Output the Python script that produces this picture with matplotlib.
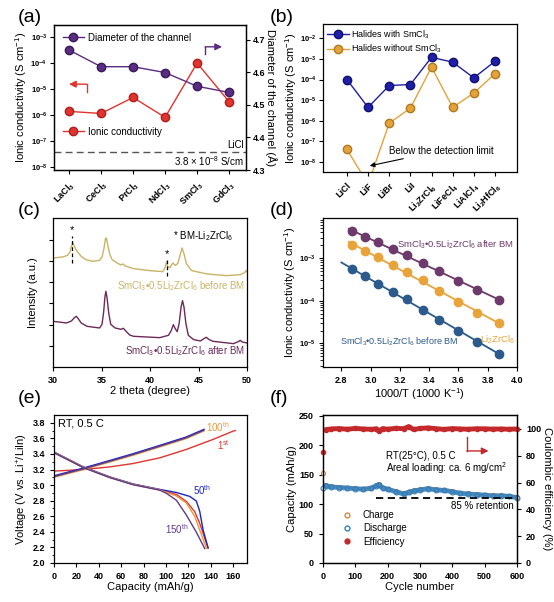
import numpy as np
import matplotlib
matplotlib.use('Agg')
import matplotlib.pyplot as plt
from matplotlib.lines import Line2D

plt.rcParams['font.family'] = ['Liberation Sans', 'DejaVu Sans']
plt.rcParams['mathtext.fontset'] = 'custom'
plt.rcParams['mathtext.rm'] = 'Liberation Sans'
plt.rcParams['mathtext.it'] = 'Liberation Sans:italic'
plt.rcParams['mathtext.bf'] = 'Liberation Sans:bold'
plt.rcParams['mathtext.default'] = 'regular'
plt.rcParams['axes.linewidth'] = 0.9
plt.rcParams['xtick.major.size'] = 3
plt.rcParams['ytick.major.size'] = 3
plt.rcParams['xtick.major.width'] = 0.8
plt.rcParams['ytick.major.width'] = 0.8

# ---------------- data ----------------
# (a) rare-earth chlorides
a_names = ['LaCl$_3$', 'CeCl$_3$', 'PrCl$_3$', 'NdCl$_3$', 'SmCl$_3$', 'GdCl$_3$']
a_cond = [1.4e-6, 1.17e-6, 4.8e-6, 8.3e-7, 1.0e-4, 3.3e-6]
a_diam = [4.668, 4.617, 4.617, 4.599, 4.557, 4.538]
licl_cond = 3.8e-8

# (b) halides with / without SmCl3
b_names = ['LiCl', 'LiF', 'LiBr', 'LiI', 'Li$_2$ZrCl$_6$', 'LiFeCl$_4$',
           'LiAlCl$_4$', 'Li$_2$HfCl$_6$']
b_with = [1.0e-4, 4.4e-6, 5.1e-5, 5.7e-5, 1.2e-3, 7.0e-4, 1.2e-4, 7.7e-4]
b_without = [4.0e-8, 8e-10, 7.5e-7, 4.0e-6, 4.0e-4, 4.4e-6, 2.2e-5, 1.9e-4]

# (c) XRD patterns (2 theta, intensity a.u.)
xrd_before_x = [30.0, 31.0, 31.5, 31.75, 31.9, 32.05, 32.2, 32.4, 32.6, 32.9,
                33.4, 34.1, 34.8, 35.05, 35.25, 35.4, 35.5, 35.65, 35.85, 36.1,
                36.6, 37.0, 37.2, 37.45, 38.3, 40.0, 41.3, 41.55, 41.7, 41.85,
                42.05, 42.35, 42.6, 42.85, 43.1, 43.3, 43.5, 43.75, 44.3, 45.9,
                47.9, 49.3, 49.75, 49.93, 50.0]
xrd_before_y = [327, 330, 335, 345, 362, 372, 362, 350, 343, 332,
                322, 317, 320, 330, 355, 385, 387, 365, 338, 322,
                312, 306, 309, 303, 295, 289, 286, 298, 315, 300,
                298, 312, 305, 310, 335, 357, 340, 310, 289, 279,
                274, 277, 283, 290, 285]
xrd_after_x = [30.0, 31.4, 31.9, 32.2, 32.4, 32.6, 32.9, 33.5, 34.8, 35.05,
               35.22, 35.35, 35.45, 35.58, 35.75, 35.95, 36.4, 37.0, 37.25, 37.5,
               37.9, 38.3, 41.0, 41.9, 42.2, 42.4, 42.6, 42.8, 43.0, 43.2,
               43.35, 43.5, 43.7, 43.95, 44.5, 45.2, 45.6, 45.8, 46.1, 46.5,
               48.6, 49.1, 49.3, 49.5, 50.0]
xrd_after_y = [137, 132, 138, 148, 152, 145, 132, 122, 117, 128,
               165, 210, 227, 205, 160, 128, 117, 113, 116, 108,
               96, 92, 88, 95, 110, 127, 115, 106, 130, 180,
               199, 180, 130, 95, 82, 78, 86, 89, 82, 77,
               70, 76, 80, 75, 72]
star_pos = [32.0, 41.7]

# (d) Arrhenius plot (log10 of conductivity)
d_x = [2.87, 2.96, 3.05, 3.15, 3.25, 3.36, 3.47, 3.60, 3.73, 3.88]
d_after = [-2.375, -2.516, -2.625, -2.789, -2.938, -3.109, -3.297, -3.531, -3.758, -3.992]
d_lzc = [-2.688, -2.844, -2.977, -3.164, -3.336, -3.508, -3.773, -4.039, -4.289, -4.523]
d_before = [-3.258, -3.422, -3.602, -3.797, -3.961, -4.211, -4.445, -4.703, -4.969, -5.242]

# (e) charge / discharge profiles
chg1_cap = [0, 0, 26, 50, 70.6, 94.5, 118, 142, 160, 162]
chg1_v = [2.9, 3.18, 3.20, 3.234, 3.277, 3.35, 3.457, 3.586, 3.693, 3.70]
chgN_cap = [0, 0, 26, 50, 70.6, 94.5, 118, 134]
chgN_v = [2.9, 3.11, 3.208, 3.307, 3.393, 3.50, 3.607, 3.706]
dis_cap_common = [0, 11, 26, 50, 70.6, 94.5]
dis_v_common = [3.42, 3.34, 3.23, 3.10, 3.01, 2.94]
dis1_cap = [109.4, 118.3, 125.7, 130.2, 137.7]
dis1_v = [2.88, 2.79, 2.66, 2.51, 2.19]
dis50_cap = [109.4, 121.3, 127.2, 130.2, 133.2, 137.7]
dis50_v = [2.90, 2.85, 2.79, 2.66, 2.42, 2.19]
dis100_cap = [109.4, 118.3, 125.7, 136.2]
dis100_v = [2.86, 2.77, 2.60, 2.19]
dis150_cap = [100.4, 109.4, 118.3, 127.2, 134.7]
dis150_v = [2.90, 2.81, 2.62, 2.40, 2.19]

# (f) cycling
cycles = [1, 10, 25, 50, 75, 100, 125, 150, 165, 172, 185, 200, 225, 250, 265,
          280, 300, 325, 350, 375, 400, 425, 450, 475, 500, 525, 550, 575, 600]
cap_dis = [128, 131, 129, 128, 127, 126, 125, 127, 131, 133, 127, 125, 121, 117, 120,
           122, 124, 126, 124, 123, 121, 118, 117, 116, 115, 114, 114, 113, 111]
cap_chg = [152, 132, 130, 129, 128, 127, 126, 128, 132, 134, 128, 126, 122, 118, 121,
           123, 125, 127, 125, 124, 122, 119, 118, 117, 116, 115, 115, 114, 112]
ce = [83, 99.5, 100, 100.3, 99.8, 100.4, 100, 99.7, 100.2, 98.5, 100.3, 99.8, 100.5,
      100.2, 101.8, 99.6, 100.4, 100.8, 100.2, 99.7, 100.3, 100, 99.8, 100.2, 100.1,
      99.9, 100, 99.8, 100]

TS = 6.5   # tick label size
LS = 8     # axis label size


def bold_ticks(ax, xs=TS, ys=TS):
    for lab in ax.get_xticklabels():
        lab.set_fontweight('bold')
        lab.set_fontsize(xs)
    for lab in ax.get_yticklabels():
        lab.set_fontweight('bold')
        lab.set_fontsize(ys)


fig = plt.figure(figsize=(5.54, 6.02), dpi=100)

# ---------------- (a) ----------------
ax = fig.add_axes([0.0975, 0.7176, 0.3466, 0.2409])
red = '#e0352f'
purp = '#5a2c82'
x = np.arange(len(a_names))
ax.plot(x, a_cond, '-o', color=red, ms=6, mec='#b01e1e', lw=1, zorder=3)
ax.axhline(licl_cond, color='#555555', ls='--', lw=1, dashes=(5, 3))
ax.set_yscale('log')
ax.set_ylim(10 ** -8.1, 10 ** -2.54)
ax.set_yticks([1e-8, 1e-7, 1e-6, 1e-5, 1e-4, 1e-3])
ax.minorticks_off()
ax.tick_params(axis='y', pad=2)
ax.set_xlim(-0.47, 5.53)
ax.set_xticks(x)
ax.set_xticklabels(a_names, rotation=45, ha='right', rotation_mode='anchor')
ax.set_ylabel('Ionic conductivity (S cm$^{-1}$)', fontsize=LS, labelpad=1)
bold_ticks(ax, ys=5.5)
ax.text(5.45, 10 ** -7.15, 'LiCl', ha='right', va='center', fontsize=7)
ax.text(5.45, 10 ** -7.75, '3.8 × 10$^{-8}$ S/cm', ha='right', va='center', fontsize=7)
ax.annotate('', xy=(0.0, 10 ** -4.81), xytext=(0.55, 10 ** -4.81),
            arrowprops=dict(arrowstyle='-|>', color=red, lw=1, shrinkA=0, shrinkB=0))
ax.plot([0.55, 0.55], [10 ** -4.81, 10 ** -5.1], color=red, lw=1)
h_red = Line2D([], [], color=red, marker='o', ms=6, mec='#b01e1e', lw=1)
ax.legend([h_red], ['Ionic conductivity'], loc='center left',
          bbox_to_anchor=(0.0, 0.265), frameon=False, fontsize=7,
          handlelength=2.2, handletextpad=0.4)
axr = ax.twinx()
axr.plot(x, a_diam, '-o', color=purp, ms=6, mec='#3a1a5a', lw=1, zorder=3)
axr.set_ylim(4.3, 4.745)
axr.set_yticks([4.3, 4.4, 4.5, 4.6, 4.7])
axr.tick_params(axis='y', pad=2)
axr.set_ylabel('Diameter of the channel (Å)', fontsize=LS, rotation=270, labelpad=8)
bold_ticks(axr)
axr.annotate('', xy=(4.78, 4.678), xytext=(4.25, 4.678),
             arrowprops=dict(arrowstyle='-|>', color=purp, lw=1, shrinkA=0, shrinkB=0))
axr.plot([4.25, 4.25], [4.678, 4.655], color=purp, lw=1)
h_p = Line2D([], [], color=purp, marker='o', ms=6, mec='#3a1a5a', lw=1)
axr.legend([h_p], ['Diameter of the channel'], loc='center left',
           bbox_to_anchor=(0.0, 0.912), frameon=False, fontsize=7,
           handlelength=2.2, handletextpad=0.4)
fig.text(0.032, 0.985, '(a)', fontsize=14, va='top')

# ---------------- (b) ----------------
ax = fig.add_axes([0.583, 0.7143, 0.3502, 0.2458])
blue = '#1f1fa8'
orng = '#e4a33a'
x = np.arange(len(b_names))
ax.plot(x, b_with, '-o', color=blue, ms=6, mec='#101070', lw=1, label='Halides with SmCl$_3$')
ax.plot(x, b_without, '-o', color=orng, ms=6, mec='#b07a20', lw=1, label='Halides without SmCl$_3$')
ax.set_yscale('log')
ax.set_ylim(10 ** -8.5, 10 ** -1.3)
ax.set_yticks([1e-8, 1e-7, 1e-6, 1e-5, 1e-4, 1e-3, 1e-2])
ax.minorticks_off()
ax.tick_params(axis='y', pad=1.5)
ax.set_xlim(-1.13, 8.04)
ax.set_xticks(x)
ax.set_xticklabels(b_names, rotation=45, ha='right', rotation_mode='anchor')
ax.set_ylabel('Ionic conductivity (S cm$^{-1}$)', fontsize=LS, labelpad=0.5)
bold_ticks(ax, ys=5.5)
ax.legend(loc='upper left', frameon=False, fontsize=6.5, handlelength=2.4,
          handletextpad=0.3, borderaxespad=0.15, labelspacing=0.25, borderpad=0.3)
ax.annotate('Below the detection limit', xy=(1.08, 10 ** -8.2), xytext=(1.98, 10 ** -7.46),
            fontsize=7, va='center',
            arrowprops=dict(arrowstyle='-|>', color='k', lw=0.8, shrinkA=1, shrinkB=0))
fig.text(0.487, 0.985, '(b)', fontsize=14, va='top')

# ---------------- (c) ----------------
ax = fig.add_axes([0.0957, 0.3904, 0.3502, 0.2475])
gold = '#c8b466'
plum = '#6a2b5a'
ax.plot(xrd_before_x, xrd_before_y, color=gold, lw=1)
ax.plot(xrd_after_x, xrd_after_y, color=plum, lw=1)
for sp in star_pos:
    ax.plot([sp, sp], [312 if sp < 35 else 272, 392 if sp < 35 else 322],
            color='k', ls='--', lw=0.9, dashes=(3, 2))
ax.text(32.0, 395, '*', ha='center', va='bottom', fontsize=8)
ax.text(41.7, 325, '*', ha='center', va='bottom', fontsize=8)
ax.text(42.4, 392, '* BM-Li$_2$ZrCl$_6$', fontsize=7, va='center')
ax.text(49.8, 242, 'SmCl$_3$•0.5Li$_2$ZrCl$_6$ before BM', color=gold, fontsize=7,
        ha='right', va='center')
ax.text(49.8, 47, 'SmCl$_3$•0.5Li$_2$ZrCl$_6$ after BM', color=plum, fontsize=7,
        ha='right', va='center')
ax.set_xlim(30, 50)
ax.set_ylim(0, 447)
ax.set_xticks([30, 35, 40, 45, 50])
ax.set_yticks([64, 127, 191, 255, 318, 382])
ax.set_yticklabels([])
ax.set_xlabel('2 theta (degree)', fontsize=LS, labelpad=1)
ax.set_ylabel('Intensity (a.u.)', fontsize=LS, labelpad=4)
bold_ticks(ax)
fig.text(0.032, 0.664, '(c)', fontsize=14, va='top')

# ---------------- (d) ----------------
ax = fig.add_axes([0.583, 0.3904, 0.3502, 0.2475])
c_after = '#6e3a6c'
c_lzc = '#e8a43a'
c_bef = '#2c5a8d'
for ys, col, x0 in [(d_after, c_after, 2.85), (d_lzc, c_lzc, 2.85), (d_before, c_bef, 2.8)]:
    k, b = np.polyfit(d_x, ys, 1)
    xx = np.array([x0, 3.88])
    ax.plot(xx, 10 ** (k * xx + b), color=col, lw=1.3)
    ax.plot(d_x, 10 ** np.array(ys), 'o', color=col, ms=6, mec=col)
ax.set_yscale('log')
ax.set_xlim(2.674, 4.0)
ax.set_ylim(10 ** -5.55, 10 ** -2.06)
ax.set_xticks([2.8, 3.0, 3.2, 3.4, 3.6, 3.8, 4.0])
ax.set_yticks([1e-5, 1e-4, 1e-3])
ax.tick_params(axis='y', pad=2)
ax.set_xlabel('1000/T (1000 K$^{-1}$)', fontsize=LS, labelpad=1)
ax.set_ylabel('Ionic conductivity (S cm$^{-1}$)', fontsize=LS, labelpad=1)
bold_ticks(ax, ys=5.5)
ax.text(3.98, 10 ** -2.69, 'SmCl$_3$•0.5Li$_2$ZrCl$_6$ after BM', color=c_after,
        fontsize=6.8, ha='right', va='center')
ax.text(3.985, 10 ** -4.91, 'Li$_2$ZrCl$_6$', color=c_lzc, fontsize=6.8, ha='right', va='center')
ax.text(2.79, 10 ** -4.95, 'SmCl$_3$•0.5Li$_2$ZrCl$_6$ before BM', color=c_bef,
        fontsize=6.5, ha='left', va='center')
fig.text(0.487, 0.664, '(d)', fontsize=14, va='top')

# ---------------- (e) ----------------
ax = fig.add_axes([0.0975, 0.0648, 0.3484, 0.2458])
e_red = '#e0352f'
e_org = '#e89a3a'
e_blu = '#1a24c8'
e_pur = '#5e3a8a'
ax.plot(chg1_cap, chg1_v, color=e_red, lw=1)
ax.plot(dis_cap_common + dis1_cap, dis_v_common + dis1_v, color=e_red, lw=1)
ax.plot(chgN_cap, np.array(chgN_v) + 0.01, color=e_blu, lw=1)
ax.plot(dis_cap_common + dis50_cap, np.array(dis_v_common + dis50_v) + 0.005, color=e_blu, lw=1)
ax.plot(chgN_cap, np.array(chgN_v) - 0.01, color=e_org, lw=1)
ax.plot(dis_cap_common + dis100_cap, dis_v_common + dis100_v, color=e_org, lw=1)
ax.plot(chgN_cap, chgN_v, color=e_pur, lw=1)
ax.plot(dis_cap_common + dis150_cap, np.array(dis_v_common + dis150_v) - 0.005, color=e_pur, lw=1)
ax.set_xlim(0, 172.5)
ax.set_ylim(2.0, 3.9)
ax.set_xticks(np.arange(0, 161, 20))
ax.set_yticks(np.arange(2.0, 3.81, 0.2))
ax.set_yticks(np.arange(2.1, 3.9, 0.2), minor=True)
ax.tick_params(which='minor', length=1.8)
ax.yaxis.set_major_formatter(matplotlib.ticker.FormatStrFormatter('%.1f'))
ax.set_xlabel('Capacity (mAh/g)', fontsize=LS, labelpad=1)
ax.set_ylabel('Voltage (V vs. Li$^{+}$/LiIn)', fontsize=LS, labelpad=2)
bold_ticks(ax)
ax.text(4, 3.85, 'RT, 0.5 C', fontsize=8, va='top')
ax.text(136, 3.74, '100$^{th}$', color=e_org, fontsize=7, va='center')
ax.text(146, 3.52, '1$^{st}$', color=e_red, fontsize=7, va='center')
ax.text(124, 2.93, '50$^{th}$', color=e_blu, fontsize=7, va='center')
ax.text(99, 2.44, '150$^{th}$', color=e_pur, fontsize=7, va='center')
fig.text(0.032, 0.352, '(e)', fontsize=14, va='top')

# ---------------- (f) ----------------
ax = fig.add_axes([0.583, 0.0648, 0.3502, 0.2458])
f_blu = '#2f7fc0'
f_org = '#d08a40'
f_red = '#c3282a'
ax.plot(cycles[1:], cap_chg[1:], color=f_org, lw=2.5, alpha=0.6)
ax.plot(cycles, cap_chg, 'o', mfc='none', mec=f_org, ms=3, mew=0.8, clip_on=False)
ax.plot(cycles[1:], cap_dis[1:], color=f_blu, lw=3.5, alpha=0.85)
ax.plot(cycles, cap_dis, 'o', mfc='none', mec=f_blu, ms=3.5, mew=0.8, clip_on=False)
ax.plot([165, 595], [110, 110], color='k', ls='--', lw=1.3, dashes=(4, 2.5))
ax.set_xlim(0, 600)
ax.set_ylim(0, 251)
ax.set_xticks(np.arange(0, 601, 100))
ax.set_yticks(np.arange(0, 251, 50))
ax.set_xlabel('Cycle number', fontsize=LS, labelpad=1)
ax.set_ylabel('Capacity (mAh/g)', fontsize=LS, labelpad=1)
bold_ticks(ax)
ax.text(196, 182, 'RT(25°C), 0.5 C', fontsize=7, va='center')
ax.text(196, 161, 'Areal loading: ca. 6 mg/cm$^2$', fontsize=7, va='center')
ax.text(590, 97, '85 % retention', fontsize=7, ha='right', va='center')
handles = [Line2D([], [], ls='none', marker='o', mfc='none', mec=f_org, ms=3.5),
           Line2D([], [], ls='none', marker='o', mfc='none', mec=f_blu, ms=3.5),
           Line2D([], [], ls='none', marker='o', color=f_red, ms=3.5)]
ax.legend(handles, ['Charge', 'Discharge', 'Efficiency'], loc='lower left',
          bbox_to_anchor=(0.03, 0.05), frameon=False, fontsize=7,
          handletextpad=0.6, labelspacing=0.35)
axr = ax.twinx()
axr.plot(cycles[1:], ce[1:], color=f_red, lw=3.5)
axr.plot(cycles, ce, 'o', color=f_red, ms=3, clip_on=False)
axr.set_ylim(0, 110.4)
axr.set_yticks(np.arange(0, 101, 20))
axr.set_ylabel('Coulombic efficiency (%)', fontsize=LS, rotation=270, labelpad=8)
bold_ticks(axr)
axr.plot([445, 445], [94.3, 83.6], color=f_red, lw=1)
axr.annotate('', xy=(512, 83.6), xytext=(445, 83.6),
             arrowprops=dict(arrowstyle='-|>', color=f_red, lw=1, shrinkA=0, shrinkB=0))
fig.text(0.487, 0.352, '(f)', fontsize=14, va='top')

fig.savefig('out.png', dpi=100)
